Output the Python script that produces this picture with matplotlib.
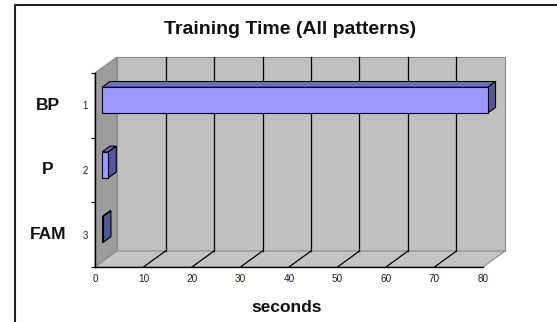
import matplotlib
matplotlib.use("Agg")
import matplotlib.pyplot as plt
from matplotlib.patches import Polygon
from matplotlib.lines import Line2D
from matplotlib import transforms

# ---- data ----
categories = ["BP", "P", "FAM"]
index_labels = ["1", "2", "3"]
values = [79.5, 1.3, 0.2]
x_ticks = [0, 10, 20, 30, 40, 50, 60, 70, 80]
title = "Training Time (All patterns)"
xlabel = "seconds"

plt.rcParams['font.family'] = ['Liberation Sans', 'DejaVu Sans']

W, H = 557, 322
fig = plt.figure(figsize=(W / 100, H / 100), dpi=100)
fig.patch.set_facecolor("white")

# front plane of the 3D box (pixel geometry of the layout)
L, R, T, B = 95, 483, 73, 267
ax = fig.add_axes([L / W, 1 - B / H, (R - L) / W, (B - T) / H])
ax.set_xlim(0, 80)
ax.set_ylim(0, 3)
ax.patch.set_visible(False)

# depth offsets in data units
dx = 22 / (R - L) * 80
dy = 16 / (B - T) * 3
ncat = len(categories)

wall_edge = "#8a8a8a"
# back wall
ax.add_patch(Polygon([(dx, dy), (80 + dx, dy), (80 + dx, 3 + dy), (dx, 3 + dy)],
                     closed=True, fc="#c0c0c0", ec=wall_edge, lw=0.8, clip_on=False, zorder=1))
# left wall
ax.add_patch(Polygon([(0, 0), (dx, dy), (dx, 3 + dy), (0, 3)],
                     closed=True, fc="#9c9c9c", ec=wall_edge, lw=0.8, clip_on=False, zorder=1))
# floor
ax.add_patch(Polygon([(0, 0), (80, 0), (80 + dx, dy), (dx, dy)],
                     closed=True, fc="#c4c4c4", ec=wall_edge, lw=0.8, clip_on=False, zorder=1))

# gridlines on wall and floor
for t in x_ticks[1:-1]:
    ax.add_line(Line2D([t + dx, t + dx], [dy, 3 + dy], color="black", lw=0.9, zorder=2, clip_on=False))
    ax.add_line(Line2D([t, t + dx], [0, dy], color="black", lw=0.9, zorder=2, clip_on=False))

# bars
f0, depth, bh = 0.32, 0.36, 0.4
front_c, top_c, side_c = "#9999ff", "#6e6ec4", "#55559a"
for i, v in enumerate(values):
    yc = ncat - i - 0.5 + f0 * dy
    y0, y1 = yc - bh / 2, yc + bh / 2
    x0, x1 = f0 * dx, v + f0 * dx
    ox, oy = depth * dx, depth * dy
    ax.add_patch(Polygon([(x0, y1), (x1, y1), (x1 + ox, y1 + oy), (x0 + ox, y1 + oy)],
                         closed=True, fc=top_c, ec="black", lw=0.8, clip_on=False, zorder=3))
    ax.add_patch(Polygon([(x1, y0), (x1 + ox, y0 + oy), (x1 + ox, y1 + oy), (x1, y1)],
                         closed=True, fc=side_c, ec="black", lw=0.8, clip_on=False, zorder=3))
    ax.add_patch(Polygon([(x0, y0), (x1, y0), (x1, y1), (x0, y1)],
                         closed=True, fc=front_c, ec="black", lw=0.8, clip_on=False, zorder=4))

# axes
for s in ["top", "right"]:
    ax.spines[s].set_visible(False)
for s in ["bottom", "left"]:
    ax.spines[s].set_color("black")
    ax.spines[s].set_linewidth(1.0)
    ax.spines[s].set_zorder(5)

ax.set_xticks(x_ticks)
ax.set_xticklabels([str(t) for t in x_ticks], fontsize=7.2, color="#1a1a3a")
ax.tick_params(axis="x", length=0, pad=5)

centers = [ncat - i - 0.5 for i in range(ncat)]
ax.set_yticks(centers)
ax.set_yticklabels(index_labels, fontsize=7, color="#1a1a3a")
ax.set_yticks([0, 1, 2, 3], minor=True)
ax.tick_params(axis="y", which="major", length=0, pad=5)
ax.tick_params(axis="y", which="minor", length=3, width=0.8, direction="out")

# category labels
trans = transforms.blended_transform_factory(fig.transFigure, ax.transData)
for c, y in zip(categories, centers):
    ax.text(48 / W, y, c, transform=trans, ha="center", va="center",
            fontsize=12.5, fontweight="bold", color="#111111")

fig.text(290 / W, 1 - 30 / H, title, ha="center", va="center", fontsize=14, fontweight="bold",
         color="#111111")
fig.text(287 / W, 1 - 307 / H, xlabel, ha="center", va="center", fontsize=12.5, fontweight="bold",
         color="#111111")

# outer frame (left and top edges)
fig.add_artist(Line2D([15 / W, 15 / W, 1.01], [-0.01, 1 - 5 / H, 1 - 5 / H],
                      transform=fig.transFigure, color="#222222", lw=1.5))

fig.savefig("out.png", dpi=100)
